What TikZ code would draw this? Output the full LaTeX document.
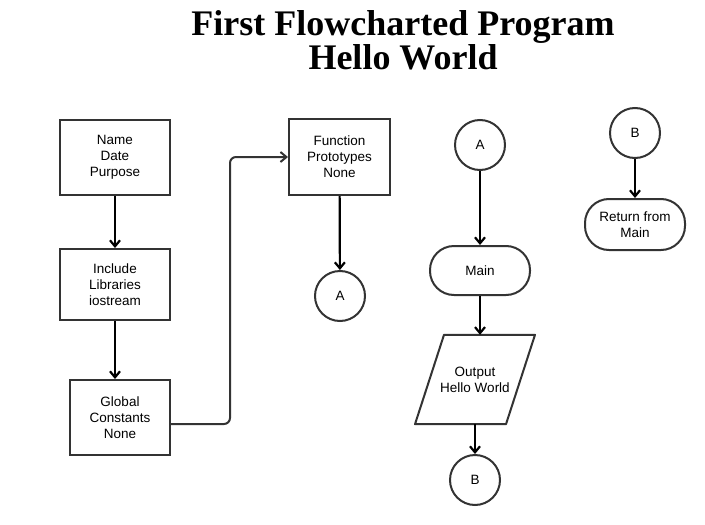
\documentclass[tikz,border=0pt]{standalone}
\usepackage{fontspec}
\setmainfont{Liberation Sans}
\newfontfamily\titlefont{Liberation Serif}
\usetikzlibrary{arrows.meta}

\begin{document}
\begin{tikzpicture}[x=1pt,y=-1pt]
\tikzset{edge/.style = {-{Straight Barb[length=6pt,width=10pt]}, line width=2.2pt}}
\tikzset{link/.style = {-{Straight Barb[length=6pt,width=10pt]}, line width=2pt, draw=black!80, rounded corners=6pt}}
\tikzset{box/.style = {draw=black!80, line width=2pt, align=center, font=\fontsize{13.5}{16}\selectfont, inner sep=0pt}}
\tikzset{proc/.style = {box, rectangle}}
\tikzset{conn/.style = {box, circle, minimum size=50pt}}
\tikzset{term/.style = {box, rectangle, rounded corners=24pt}}
\useasboundingbox (0,0) rectangle (705,525);
\node[font=\titlefont\bfseries\fontsize{36}{28}\selectfont, align=center](title) at (403,40) {First Flowcharted Program\\Hello World};
\node[proc, minimum width=110pt, minimum height=75pt](info) at (115,157.5) {Name\\Date\\Purpose};
\node[proc, minimum width=110pt, minimum height=71pt](incl) at (115,284.5) {Include\\Libraries\\iostream};
\node[proc, minimum width=100pt, minimum height=75pt](glob) at (120,417.5) {Global\\Constants\\None};
\node[proc, minimum width=101pt, minimum height=76pt](proto) at (339.5,157) {Function\\Prototypes\\None};
\node[conn](a1) at (340,296) {A};
\node[conn](a2) at (480,145) {A};
\node[term, minimum width=100pt, minimum height=49pt](main) at (480,270.5) {Main};
\node[align=center, font=\fontsize{13.5}{16}\selectfont, minimum width=62pt, minimum height=89pt, inner sep=0pt](out) at (475,379.5) {Output\\Hello World};
\node[conn](b1) at (475,480) {B};
\node[conn](b2) at (635,133) {B};
\node[term, minimum width=100pt, minimum height=51pt](ret) at (635,224.5) {Return from\\Main};
% parallelogram around the output node
\draw[draw=black!80, line width=2pt, line join=round] ([xshift=-31pt]out.north) -- ([xshift=60pt]out.north) -- ([xshift=31pt]out.south) -- ([xshift=-60pt]out.south) -- cycle;
\draw[edge] (info) -- (incl);
\draw[edge] (incl.south) -- (incl.south |- glob.north);
\draw[link] ([yshift=-6.5pt]glob.east) -| (230,157) -- (proto.west);
\draw[edge] (proto) -- (a1);
\draw[edge] (a2) -- (main);
\draw[edge] (main.south) -- (main.south |- out.north);
\draw[edge] (b1 |- out.south) -- (b1);
\draw[edge] (b2) -- (ret);
\end{tikzpicture}
\end{document}
